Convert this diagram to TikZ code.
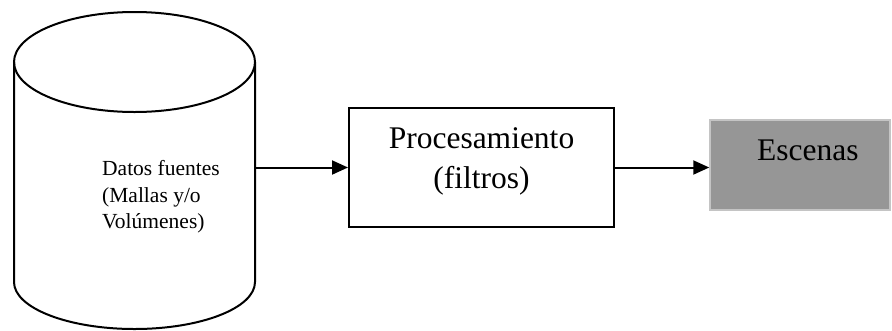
\documentclass[tikz,border=0pt]{standalone}
\usepackage{fontspec}
\setmainfont{Liberation Serif}
\usetikzlibrary{arrows.meta}
\definecolor{escfill}{HTML}{969696}
\definecolor{escborder}{HTML}{C4C4C4}
\begin{document}
\begin{tikzpicture}[x=1pt,y=-1pt,
  line/.style={line width=2pt,draw=black},
  conn/.style={line width=2pt,-{Triangle[length=16pt,width=14pt]}},
  boxstyle/.style={draw=black,line width=2pt,minimum width=265pt,minimum height=119pt,inner sep=0pt},
  escbox/.style={draw=escborder,fill=escfill,line width=1.5pt,minimum width=180pt,minimum height=90pt,inner sep=0pt},
  smalltext/.style={font=\fontsize{21.5}{26.5}\selectfont,inner sep=0pt},
  bigtext/.style={font=\fontsize{31.5}{40}\selectfont,inner sep=0pt}]
\useasboundingbox (0,0) rectangle (892,330);
% cylinder
\draw[line] (14,62) -- (14,282) arc[start angle=180,end angle=0,x radius=120.5,y radius=47] -- (255,62);
\draw[line] (134.5,62) ellipse[x radius=120.5,y radius=50];
\node[inner sep=0pt,minimum width=241pt,minimum height=270pt] (db) at (134.5,196) {};
\node[smalltext,align=left,anchor=west] (dbtext) at (102,197) {Datos fuentes\\(Mallas y/o\\Volúmenes)};
% processing box
\node[boxstyle] (proc) at (481.5,167.5) {};
\node[bigtext,align=center] (proctext) at (481.5,161) {Procesamiento\\(filtros)};
% scenes box
\node[escbox] (esc) at (800,165) {};
\node[bigtext,anchor=base west] (esctext) at (757,160) {Escenas};
% connectors
\draw[conn] (db.east |- proc.west) -- (proc.west);
\draw[conn] (proc.east) -- (esc.west |- proc.east);
\end{tikzpicture}
\end{document}
